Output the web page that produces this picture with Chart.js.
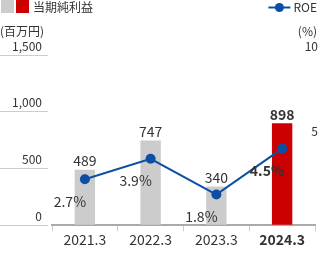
<!DOCTYPE html>
<html><head><meta charset="utf-8">
<script src="https://cdn.jsdelivr.net/npm/chart.js@4"></script>
<style>html,body{margin:0;padding:0;background:#fff}#wrap{width:320px;height:260px;position:relative}</style>
</head><body><div id="wrap"><canvas id="c"></canvas></div>
<script>
const categories = ['2021.3', '2022.3', '2023.3', '2024.3'];
const netIncome = [489, 747, 340, 898];
const roe = [2.7, 3.9, 1.8, 4.5];
const leftTicks = [0, 500, 1000, 1500];
const rightTicks = [5, 10];
const seriesNames = ['当期純利益', 'ROE'];
const unitLabels = ['(百万円)', '(%)'];

const FONT = '"Noto Sans CJK JP", "Noto Sans", sans-serif';
const TEXT = '#333333';
const GRAY = '#cccccc';
const RED = '#cc0000';
const BLUE = '#0b4ea2';
const last = categories.length - 1;

Chart.defaults.font.family = FONT;
Chart.defaults.color = TEXT;

const overlay = {
  id: 'overlay',
  afterDatasetsDraw(chart) {
    const ctx = chart.ctx;
    const bars = chart.getDatasetMeta(0).data;
    const pts = chart.getDatasetMeta(1).data;
    ctx.save();
    ctx.fillStyle = TEXT;
    ctx.textAlign = 'center';
    bars.forEach((b, i) => {
      ctx.font = (i === last ? 'bold ' : '') + '14px ' + FONT;
      ctx.textBaseline = 'bottom';
      ctx.fillText(netIncome[i].toLocaleString('en-US'), b.x, b.y - 2);
    });
    pts.forEach((p, i) => {
      ctx.font = (i === last ? 'bold ' : '') + '14px ' + FONT;
      ctx.textBaseline = 'middle';
      ctx.fillText(roe[i].toFixed(1) + '%', p.x - 15, p.y + 22);
    });
    ctx.restore();
  },
  afterDraw(chart) {
    const ctx = chart.ctx;
    const W = chart.width;
    ctx.save();
    // legend: bar series
    ctx.fillStyle = GRAY; ctx.fillRect(1, 0, 13, 13);
    ctx.fillStyle = RED; ctx.fillRect(16, 0, 13, 13);
    ctx.fillStyle = TEXT;
    ctx.font = '12px ' + FONT;
    ctx.textBaseline = 'middle';
    ctx.textAlign = 'left';
    ctx.fillText(seriesNames[0], 33, 7);
    // legend: line series
    ctx.textAlign = 'right';
    ctx.fillText(seriesNames[1], W - 3, 7);
    const tw = ctx.measureText(seriesNames[1]).width;
    const lx2 = W - 3 - tw - 3;
    ctx.strokeStyle = BLUE; ctx.lineWidth = 2;
    ctx.beginPath(); ctx.moveTo(lx2 - 22, 7.5); ctx.lineTo(lx2, 7.5); ctx.stroke();
    ctx.fillStyle = BLUE;
    ctx.beginPath(); ctx.arc(lx2 - 11, 7.5, 4.5, 0, Math.PI * 2); ctx.fill();
    // unit labels
    ctx.fillStyle = TEXT;
    ctx.textAlign = 'left';
    ctx.fillText(unitLabels[0], 0, 31);
    ctx.textAlign = 'right';
    ctx.fillText(unitLabels[1], W - 3, 31);
    ctx.restore();
  }
};

new Chart(document.getElementById('c'), {
  data: {
    labels: categories,
    datasets: [
      {
        type: 'bar',
        label: seriesNames[0],
        data: netIncome,
        yAxisID: 'y',
        order: 2,
        backgroundColor: netIncome.map((_, i) => i === last ? RED : GRAY),
        categoryPercentage: 1,
        barPercentage: 0.31
      },
      {
        type: 'line',
        label: seriesNames[1],
        data: roe,
        yAxisID: 'y1',
        order: 1,
        borderColor: BLUE,
        backgroundColor: BLUE,
        borderWidth: 2,
        pointRadius: 5,
        pointBackgroundColor: BLUE,
        pointBorderWidth: 0,
        tension: 0
      }
    ]
  },
  options: {
    responsive: true,
    maintainAspectRatio: false,
    devicePixelRatio: 1,
    animation: false,
    layout: { padding: { top: 55, bottom: 12, left: 0, right: 0 } },
    plugins: { legend: { display: false }, tooltip: { enabled: false } },
    scales: {
      x: {
        offset: true,
        grid: { drawOnChartArea: false, tickLength: 6, tickColor: '#cccccc', color: '#cccccc' },
        border: { color: '#aaaaaa', width: 2 },
        ticks: {
          padding: 0,
          color: TEXT,
          font: (c) => ({ size: 14, weight: c.index === last ? 'bold' : 'normal', family: FONT })
        }
      },
      y: {
        position: 'left',
        min: 0, max: 1500,
        afterBuildTicks: (axis) => { axis.ticks = leftTicks.map(v => ({ value: v })); },
        afterFit: (axis) => { axis.width = 52; },
        grid: { drawOnChartArea: false, tickLength: 52, tickBorderDash: [48, 200], tickColor: '#cccccc', color: '#cccccc' },
        border: { display: false },
        ticks: {
          crossAlign: 'near',
          padding: -42,
          labelOffset: -9,
          color: TEXT,
          font: { size: 12, family: FONT },
          callback: (v) => Number(v).toLocaleString('en-US')
        }
      },
      y1: {
        position: 'right',
        min: 0, max: 10,
        afterBuildTicks: (axis) => { axis.ticks = rightTicks.map(v => ({ value: v })); },
        afterFit: (axis) => { axis.width = 0; },
        grid: { display: false, drawTicks: false },
        border: { display: false },
        ticks: {
          mirror: true,
          padding: 3,
          labelOffset: -9,
          color: TEXT,
          font: { size: 12, family: FONT }
        }
      }
    }
  },
  plugins: [overlay]
});
</script>
</body></html>
